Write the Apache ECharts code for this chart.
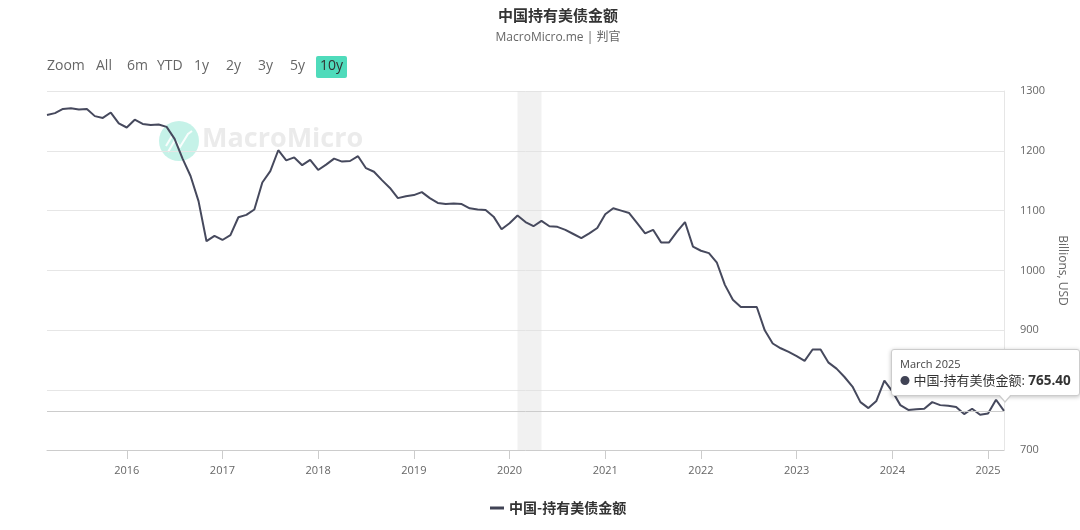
<!DOCTYPE html>
<html>
<head>
<meta charset="utf-8">
<script src="https://cdn.jsdelivr.net/npm/echarts@6/dist/echarts.min.js"></script>
<style>
html,body{margin:0;padding:0;background:#fff;}
#chart{width:1080px;height:530px;}
</style>
</head>
<body>
<div id="chart"></div>
<script>
// ---- Data ----
const seriesName = '中国-持有美债金额';
const startYear = 2015, startMonth = 3; // March 2015 .. March 2025, monthly
const values2015 = [1260, 1263, 1270, 1271, 1269, 1270, 1258, 1255, 1264, 1246];
const values2016 = [1239, 1252, 1245, 1243, 1244, 1240, 1220, 1187, 1158, 1116, 1049, 1058];
const values2017 = [1051, 1059, 1089, 1093, 1102, 1147, 1166, 1201, 1184, 1189, 1176, 1185];
const values2018 = [1168, 1177, 1187, 1182, 1183, 1191, 1171, 1165, 1151, 1138, 1121, 1124];
const values2019 = [1126, 1131, 1121, 1113, 1111, 1112, 1111, 1104, 1102, 1101, 1090, 1069];
const values2020 = [1079, 1092, 1081, 1074, 1083, 1074, 1073, 1068, 1061, 1054, 1062, 1071];
const values2021 = [1094, 1104, 1100, 1096, 1079, 1062, 1068, 1047, 1047, 1065, 1081, 1040];
const values2022 = [1033, 1029, 1013, 976, 951, 939, 939, 939, 900, 878, 870, 864];
const values2023 = [857, 849, 868, 868, 846, 836, 822, 806, 780, 770, 782, 816];
const values2024 = [798, 775, 767, 768, 769, 780, 775, 774, 772, 760, 769, 759];
const values2025 = [761, 784, 765.4];
const yTicks = [700, 800, 900, 1000, 1100, 1200, 1300];
const rangeButtons = ['Zoom', 'All', '6m', 'YTD', '1y', '2y', '3y', '5y', '10y'];
const recession = ['2020-02', '2020-05'];
const monthNames = ['January','February','March','April','May','June','July','August','September','October','November','December'];

const values = [].concat(values2015, values2016, values2017, values2018, values2019,
  values2020, values2021, values2022, values2023, values2024, values2025);
const categories = values.map((v, i) => {
  const m = startMonth - 1 + i;
  const y = startYear + Math.floor(m / 12);
  const mm = (m % 12) + 1;
  return y + '-' + (mm < 10 ? '0' + mm : '' + mm);
});
const lastIndex = values.length - 1;

// ---- Range buttons (graphic) ----
const btnX = [47, 96, 127, 157, 194, 226, 258, 290, 316];
const btnW = [38, 18, 21, 26, 16, 16, 16, 16, 31];
const graphics = [];
rangeButtons.forEach((t, i) => {
  if (t === '10y') {
    graphics.push({type: 'rect', left: btnX[i], top: 56, shape: {width: btnW[i], height: 22, r: 2},
      style: {fill: '#4fdbbb'}, silent: true});
  }
  graphics.push({type: 'text', left: t === '10y' ? btnX[i] + 4 : btnX[i], top: 59,
    style: {text: t, fill: t === '10y' ? '#333' : '#666', font: '14px "Open Sans", sans-serif'}, silent: true});
});
// watermark
graphics.push({type: 'circle', shape: {cx: 179, cy: 141, r: 20}, style: {fill: 'rgba(90,218,190,0.35)'}, silent: true, z: 0});
graphics.push({type: 'polyline', shape: {points: [[168,152],[175,140],[180,147],[188,134],[192,131]]},
  style: {stroke: 'rgba(255,255,255,0.9)', lineWidth: 2, fill: null}, silent: true, z: 0});
graphics.push({type: 'polyline', shape: {points: [[166,146],[172,136]]},
  style: {stroke: 'rgba(255,255,255,0.9)', lineWidth: 2, fill: null}, silent: true, z: 0});
graphics.push({type: 'text', left: 202, top: 126,
  style: {text: 'MacroMicro', fill: 'rgba(205,205,205,0.4)', font: 'bold 27px "Open Sans", sans-serif'}, silent: true, z: 0});

const chart = echarts.init(document.getElementById('chart'), null, {renderer: 'canvas'});
chart.setOption({
  animation: false,
  textStyle: {fontFamily: '"Open Sans", "Noto Sans CJK SC", sans-serif'},
  title: {
    text: '中国持有美债金额',
    subtext: 'MacroMicro.me | 判官',
    left: 553, top: 3, textAlign: 'center', itemGap: 9,
    textStyle: {fontSize: 15, fontWeight: 'bold', color: '#333', fontFamily: '"Noto Sans CJK SC", sans-serif'},
    subtextStyle: {fontSize: 12, color: '#666', fontFamily: '"Open Sans", "Noto Sans CJK SC", sans-serif'}
  },
  graphic: graphics,
  legend: {
    bottom: 10, left: 485,
    data: [seriesName],
    itemWidth: 14, itemHeight: 3, itemGap: 6,
    icon: 'rect',
    textStyle: {fontSize: 14, fontWeight: 'bold', color: '#333', fontFamily: '"Noto Sans CJK SC", sans-serif'}
  },
  grid: {left: 47, right: 76, top: 91, bottom: 80, containLabel: false},
  tooltip: {
    trigger: 'axis',
    triggerOn: 'none',
    transitionDuration: 0,
    axisPointer: {type: 'none'},
    backgroundColor: '#fff',
    borderColor: '#ccc',
    borderWidth: 1,
    padding: [6, 8],
    extraCssText: 'box-shadow:0 1px 4px rgba(0,0,0,0.25);border-radius:3px;',
    position: function () { return [891, 349]; },
    formatter: function (params) {
      const p = params[0];
      const parts = p.axisValue.split('-');
      const label = monthNames[parseInt(parts[1], 10) - 1] + ' ' + parts[0];
      return '<div style="position:relative;font-family:\'Open Sans\',\'Noto Sans CJK SC\',sans-serif;line-height:16px;">' +
        '<div style="font-size:11px;color:#444;">' + label + '</div>' +
        '<div style="font-size:13px;color:#333;white-space:nowrap;"><span style="color:#404355;font-size:10px;">●</span> ' +
        seriesName + ': <b style="font-size:13.5px;">' + p.value.toFixed(2) + '</b></div>' +
        '<div style="position:absolute;left:98px;bottom:-14px;width:0;height:0;border-left:7px solid transparent;border-right:7px solid transparent;border-top:8px solid #ccc;"></div>' +
        '<div style="position:absolute;left:99px;bottom:-12px;width:0;height:0;border-left:6px solid transparent;border-right:6px solid transparent;border-top:7px solid #fff;"></div>' +
        '</div>';
    }
  },
  xAxis: {
    type: 'category',
    data: categories,
    boundaryGap: false,
    axisLine: {lineStyle: {color: '#ccc'}},
    axisTick: {show: true, length: 9, lineStyle: {color: '#ccc'},
      interval: function (idx, val) { return val.slice(5) === '01'; }},
    axisLabel: {
      color: '#666', fontSize: 11, margin: 15,
      interval: function (idx, val) { return val.slice(5) === '01'; },
      formatter: function (val) { return val.slice(0, 4); }
    },
    splitLine: {show: false}
  },
  yAxis: {
    type: 'value',
    position: 'right',
    min: yTicks[0], max: yTicks[yTicks.length - 1], interval: 100,
    name: 'Billions, USD',
    nameLocation: 'middle',
    nameRotate: -90,
    nameGap: 52,
    nameTextStyle: {color: '#666', fontSize: 12},
    axisLine: {show: true, lineStyle: {color: '#e6e6e6'}},
    axisTick: {show: false},
    axisLabel: {color: '#666', fontSize: 11, margin: 16, formatter: function (v) { return String(v); }},
    splitLine: {lineStyle: {color: '#e6e6e6'}}
  },
  series: [{
    name: seriesName,
    type: 'line',
    data: values,
    symbol: 'none',
    color: '#404355',
    lineStyle: {width: 2, color: '#404355'},
    z: 3,
    markArea: {
      silent: true,
      itemStyle: {color: 'rgba(225,225,225,0.45)'},
      data: [[{xAxis: recession[0]}, {xAxis: recession[1]}]]
    },
    markLine: {
      silent: true, symbol: 'none', label: {show: false},
      lineStyle: {color: '#ccc', type: 'solid', width: 1},
      data: [{yAxis: values[lastIndex]}]
    }
  }]
});
chart.dispatchAction({type: 'showTip', seriesIndex: 0, dataIndex: lastIndex});
</script>
</body>
</html>
